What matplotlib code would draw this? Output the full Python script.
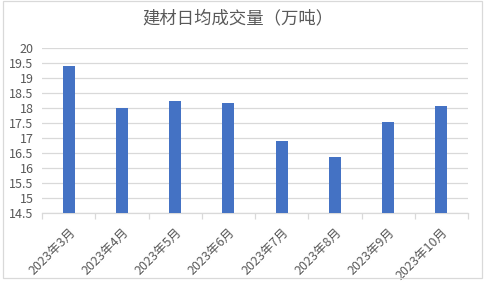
import matplotlib.pyplot as plt
from matplotlib.patches import Rectangle

plt.rcParams['font.family'] = ['Noto Sans CJK SC', 'DejaVu Sans']

months = ["2023年3月", "2023年4月", "2023年5月", "2023年6月",
          "2023年7月", "2023年8月", "2023年9月", "2023年10月"]
volume = [19.40, 18.00, 18.24, 18.18, 16.91, 16.38, 17.54, 18.08]
y_ticks = [14.5, 15, 15.5, 16, 16.5, 17, 17.5, 18, 18.5, 19, 19.5, 20]
y_labels = ["14.5", "15", "15.5", "16", "16.5", "17", "17.5", "18", "18.5", "19", "19.5", "20"]

text_col = "#595959"
grid_col = "#d9d9d9"

fig = plt.figure(figsize=(4.85, 2.88), dpi=100)
fig.patch.set_facecolor("white")
ax = fig.add_axes([0.0866, 0.2604, 0.8784, 0.5716])

x = range(len(months))
ax.bar(x, volume, width=0.225, bottom=14.5, color="#4472C4", zorder=3)
# bar() with bottom adds height, so subtract baseline
for p, v in zip(ax.patches, volume):
    p.set_height(v - 14.5)

ax.set_xlim(-0.5, len(months) - 0.5)
ax.set_ylim(14.5, 20)
ax.set_yticks(y_ticks)
ax.set_yticklabels(y_labels)
ax.yaxis.grid(True, color=grid_col, linewidth=0.9, zorder=0)
ax.tick_params(axis="y", length=0, pad=6, labelsize=9, labelcolor=text_col)

ax.set_xticks(list(x))
ax.set_xticklabels(months, rotation=45, ha="right", rotation_mode="anchor")
ax.tick_params(axis="x", length=0, pad=9, labelsize=9, labelcolor=text_col)
ax.set_xticks([i + 0.5 for i in range(-1, len(months))], minor=True)
ax.tick_params(axis="x", which="minor", length=4, color=grid_col, width=0.9)

for s in ["top", "right", "left"]:
    ax.spines[s].set_visible(False)
ax.spines["bottom"].set_color(grid_col)
ax.spines["bottom"].set_linewidth(0.9)

fig.text(0.49, 0.935, "建材日均成交量（万吨）", ha="center", va="center",
         fontsize=12.5, color=text_col)

fig.patches.append(Rectangle((3 / 485, 1 - 278 / 288), 479 / 485, 278 / 288 - 0.003,
                             transform=fig.transFigure, fill=False,
                             edgecolor=grid_col, linewidth=0.9))

fig.savefig("out.png", dpi=100)
